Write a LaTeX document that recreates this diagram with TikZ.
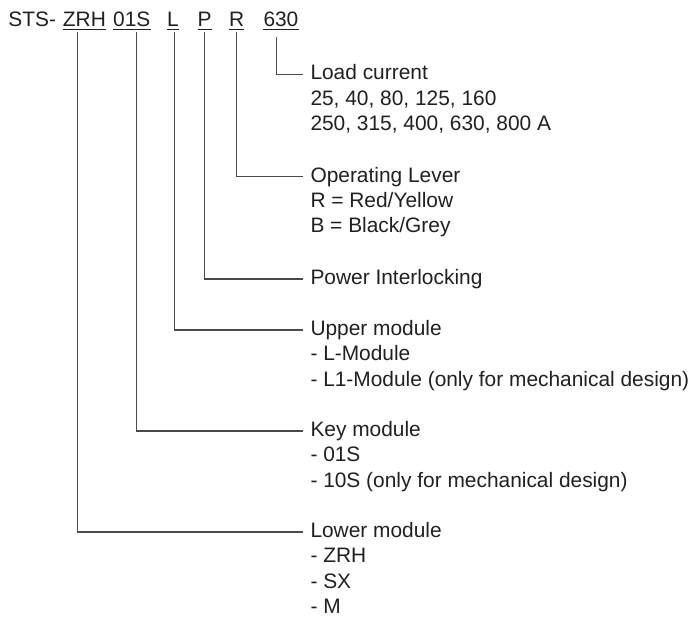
\documentclass[tikz,border=0pt]{standalone}
\usepackage{fontspec}
\setmainfont{Liberation Sans}
\definecolor{textc}{HTML}{231F20}
\definecolor{linec}{HTML}{4A4A4A}
\begin{document}
\begin{tikzpicture}[x=1pt,y=-1pt,
  txt/.style={font=\fontsize{20.9}{25.4}\selectfont, text=textc, inner sep=0pt},
  code/.style={txt, anchor=base west},
  head/.style={txt, inner xsep=7pt, inner ysep=0pt, text height=15pt, text depth=4pt, anchor=west},
  item/.style={txt, inner xsep=7pt, inner ysep=0pt, anchor=base west},
  wire/.style={draw=linec, line width=1.1pt},
  uline/.style={draw=textc, line width=0.9pt}]
\useasboundingbox (0,0) rectangle (698,617);

% header code
\node[code] (sts) at (8.3,26.7) {STS-};
\node[code] (zrh) at (62.7,26.7) {ZRH};
\node[code] (o1s) at (113,26.7) {01S};
\node[code] (cl) at (167,26.7) {L};
\node[code] (cp) at (197.5,26.7) {P};
\node[code] (cr) at (229,26.7) {R};
\node[code] (c630) at (263.3,26.7) {630};
\foreach \n in {zrh,o1s,cl,cp,cr,c630}
  \draw[uline] ([yshift=-2.6pt]\n.base west) -- ([yshift=-2.6pt]\n.base east);

% drop points
\coordinate (dZRH) at (77.7,32);
\coordinate (d01S) at (136.8,32);
\coordinate (dL) at (174.8,32);
\coordinate (dP) at (204.7,32);
\coordinate (dR) at (236.7,32);
\coordinate (d630) at (276.7,37);

% labels
\node[head] (load) at (303.3,74.5) {Load current};
\node[item] (load1) at ([yshift=-25.4pt]load.base west) {25, 40, 80, 125, 160};
\node[item] (load2) at ([yshift=-25.4pt]load1.base west) {250, 315, 400, 630, 800 A};

\node[head] (lever) at (303.3,176.7) {Operating Lever};
\node[item] (lever1) at ([yshift=-25.4pt]lever.base west) {R = Red/Yellow};
\node[item] (lever2) at ([yshift=-25.4pt]lever1.base west) {B = Black/Grey};

\node[head] (power) at (303.3,279) {Power Interlocking};

\node[head] (upper) at (303.3,330) {Upper module};
\node[item] (upper1) at ([yshift=-25.4pt]upper.base west) {- L-Module};
\node[item] (upper2) at ([yshift=-25.4pt]upper1.base west) {- L1-Module (only for mechanical design)};

\node[head] (key) at (303.3,431) {Key module};
\node[item] (key1) at ([yshift=-25.4pt]key.base west) {- 01S};
\node[item] (key2) at ([yshift=-25.4pt]key1.base west) {- 10S (only for mechanical design)};

\node[head] (lower) at (303.3,532) {Lower module};
\node[item] (lower1) at ([yshift=-25.4pt]lower.base west) {- ZRH};
\node[item] (lower2) at ([yshift=-25.4pt]lower1.base west) {- SX};
\node[item] (lower3) at ([yshift=-25.4pt]lower2.base west) {- M};

% connectors
\draw[wire] (d630) |- (load.west);
\draw[wire] (dR) |- (lever.west);
\draw[wire] (dP) |- (power.west);
\draw[wire] (dL) |- (upper.west);
\draw[wire] (d01S) |- (key.west);
\draw[wire] (dZRH) |- (lower.west);
\end{tikzpicture}
\end{document}
